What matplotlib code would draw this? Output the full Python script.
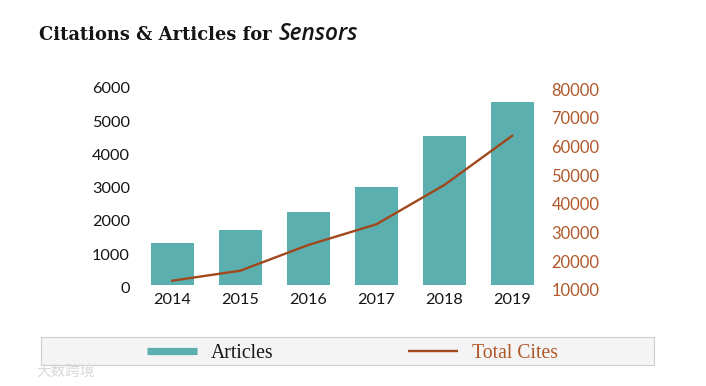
import matplotlib
matplotlib.use("Agg")
import matplotlib.pyplot as plt
from matplotlib.lines import Line2D
from matplotlib.patches import Rectangle
from matplotlib.transforms import ScaledTranslation

years = ["2014", "2015", "2016", "2017", "2018", "2019"]
articles = [1274, 1655, 2187, 2940, 4484, 5520]
total_cites = [13250, 16730, 25700, 32900, 46600, 63800]
left_ticks = [0, 1000, 2000, 3000, 4000, 5000, 6000]
right_ticks = [10000, 20000, 30000, 40000, 50000, 60000, 70000, 80000]

W, H = 706, 386
TEAL = "#5BB0AF"
RUST = "#A0481C"
RUST_TXT = "#B0582A"
INK = "#151515"

fig = plt.figure(figsize=(W / 100, H / 100), dpi=100, facecolor="white")

# axes box in pixels: spans both vertical scales
top_px, bot_px = 85.0, 292.0
ax = fig.add_axes([138.3 / W, 1 - bot_px / H, (546.2 - 138.3) / W, (bot_px - top_px) / H])
x = list(range(len(years)))
ax.bar(x, articles, width=0.63, color=TEAL, zorder=2)
ax.set_xlim(-0.5, 5.5)
lpx = 199.4 / 6000
ax.set_ylim(-(bot_px - 285.0) / lpx, (285.0 - top_px) / lpx)
ax.set_xticks(x, years)
ax.set_yticks(left_ticks)
ax.tick_params(axis="both", length=0, labelsize=11.7, labelcolor=INK)
ax.tick_params(axis="y", pad=6)
ax.tick_params(axis="x", pad=0.5)
shift = ScaledTranslation(0, -1.7 / 72, fig.dpi_scale_trans)
for lab in ax.get_xticklabels() + ax.get_yticklabels():
    lab.set_family("Lato")
for lab in ax.get_yticklabels():
    lab.set_transform(lab.get_transform() + shift)

ax2 = ax.twinx()
rpx = 200.7 / 70000
ax2.set_ylim(10000 - (bot_px - 290.0) / rpx, 10000 + (290.0 - top_px) / rpx)
ax2.plot(x, total_cites, color=RUST, lw=1.7, zorder=3)
ax2.set_yticks(right_ticks)
ax2.tick_params(axis="y", length=0, labelsize=11.9, labelcolor=RUST_TXT, pad=3.8)
for lab in ax2.get_yticklabels():
    lab.set_family("Lato")
for a in (ax, ax2):
    for s in a.spines.values():
        s.set_visible(False)

# title
fig.text(39 / W, 1 - 40 / H, "Citations & Articles for", family="DejaVu Serif",
         weight="bold", fontsize=12.9, color=INK, va="baseline")
fig.text(279 / W, 1 - 40 / H, "Sensors", family="Open Sans", style="italic",
         weight="semibold", fontsize=16.3, color=INK, va="baseline")

# legend band
fig.add_artist(Rectangle((41 / W, 1 - 365 / H), 613 / W, 28 / H, transform=fig.transFigure,
                         facecolor="#F4F4F4", edgecolor="#CDCDCD", lw=0.8))
handles = [Line2D([], [], color=TEAL, lw=5.2, solid_capstyle="butt"),
           Line2D([], [], color=RUST, lw=1.7, solid_capstyle="butt")]
fig.legend(handles, ["Articles", "Total Cites"], loc="center left",
           bbox_to_anchor=(147 / W, 1 - 353 / H), ncol=2, frameon=False,
           borderpad=0, borderaxespad=0, handlelength=2.54, handletextpad=0.71,
           columnspacing=6.8, labelcolor=[INK, RUST_TXT],
           prop={"family": "Liberation Serif", "size": 14.2})

# watermark
fig.text(36 / W, 1 - 372 / H, "大数跨境", family="Noto Sans CJK SC", fontsize=10.5,
         color="#D8D8D8", va="center")

fig.savefig("out.png", dpi=100, facecolor="white")
